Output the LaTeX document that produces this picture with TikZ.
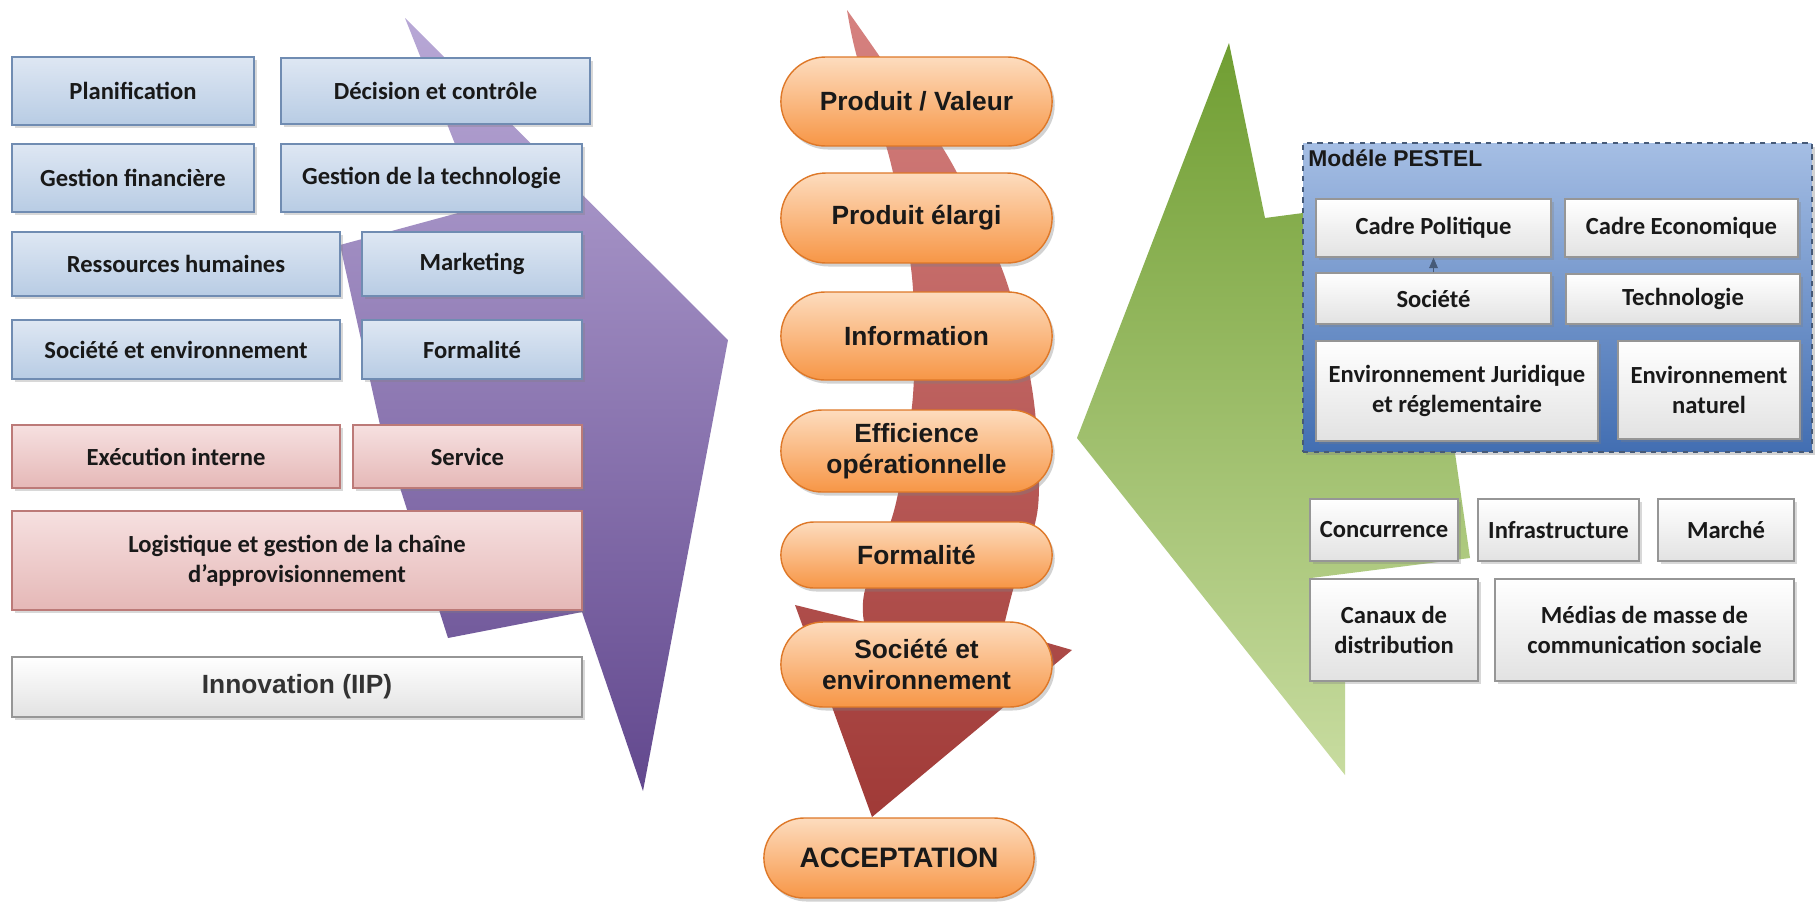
\documentclass[tikz,border=0pt]{standalone}
\usepackage{fontspec}
\setmainfont{Carlito}
\newfontfamily\arialf{Liberation Sans}
\usetikzlibrary{shapes.misc,shadows,arrows.meta,positioning}
\definecolor{bluetop}{RGB}{222,231,243}
\definecolor{bluebot}{RGB}{184,204,228}
\definecolor{blueline}{RGB}{112,140,178}
\definecolor{pinktop}{RGB}{246,224,224}
\definecolor{pinkbot}{RGB}{229,184,183}
\definecolor{pinkline}{RGB}{188,122,120}
\definecolor{greybot}{RGB}{226,226,226}
\definecolor{greyline}{RGB}{150,150,150}
\definecolor{pilltop}{RGB}{253,220,190}
\definecolor{pillbot}{RGB}{247,150,70}
\definecolor{pillline}{RGB}{222,120,40}
\definecolor{purtop}{RGB}{184,168,214}
\definecolor{purbot}{RGB}{98,72,142}
\definecolor{redtop}{RGB}{214,130,128}
\definecolor{redbot}{RGB}{160,58,55}
\definecolor{grntop}{RGB}{112,158,50}
\definecolor{grnbot}{RGB}{200,220,160}
\definecolor{pesttop}{RGB}{165,190,228}
\definecolor{pestbot}{RGB}{66,110,178}
\definecolor{pestline}{RGB}{70,90,120}
\definecolor{txt}{RGB}{25,25,25}

\begin{document}
\begin{tikzpicture}[x=0.02cm,y=-0.02cm,
	box/.style={rectangle,line width=0.8pt,text=txt,align=center,inner sep=2pt,
		font=\bfseries\fontsize{14}{17}\selectfont,
		drop shadow={shadow xshift=1.5pt,shadow yshift=-1.5pt,opacity=.3}},
	bluebox/.style={box,draw=blueline,top color=bluetop,bottom color=bluebot},
	pinkbox/.style={box,draw=pinkline,top color=pinktop,bottom color=pinkbot},
	greybox/.style={box,draw=greyline,top color=white,bottom color=greybot},
	pill/.style={rounded rectangle,draw=pillline,line width=0.8pt,top color=pilltop,bottom color=pillbot,
		text=txt,align=center,font=\arialf\bfseries\fontsize{15}{18}\selectfont,minimum width=5.66cm,
		drop shadow={shadow xshift=1.5pt,shadow yshift=-2pt,opacity=.35}},
	pestframe/.style={rectangle,draw=pestline,dashed,line width=1.2pt,top color=pesttop,bottom color=pestbot,
		drop shadow={shadow xshift=1.5pt,shadow yshift=-2pt,opacity=.35}}]
	\path[use as bounding box,fill=white] (0,0) rectangle (1816,907);
	\shade[top color=purtop,bottom color=purbot] (405,18)--(728,340)--(643,791)--(582,612)--(448,638)--(380,425)--(340,245)--(480,207)--cycle;
	\shade[top color=redtop,bottom color=redbot] plot[smooth] coordinates {(847,10)(880,57)(950,160)(1005,277)(1033,395)(1038,507)(1013,590)(1003,630)}
		--(1072,650)--(872,817)--(795,605)
		--plot[smooth] coordinates {(864,622)(865,590)(895,507)(913,395)(912,277)(890,160)(857,57)(847,10)}--cycle;
	\shade[top color=grntop,bottom color=grnbot] (1229,43)--(1265,218)--(1303,213)--(1440,205)--(1455,453)--(1470,558)--(1311,578)--(1345,681)--(1345,775)--(1077,438)--cycle;

	\node (plan) at (133,91)[bluebox,minimum width=4.84cm,minimum height=1.36cm] {Planification};
	\node (deci) at (435.5,91)[bluebox,minimum width=6.18cm,minimum height=1.32cm] {Décision et contrôle};
	\node (gfin) at (133,178)[bluebox,minimum width=4.84cm,minimum height=1.36cm] {Gestion financière};
	\node (gtec) at (431.5,178)[bluebox,minimum width=6.02cm,minimum height=1.36cm] {Gestion de la technologie};
	\node (rh) at (176,264)[bluebox,minimum width=6.56cm,minimum height=1.28cm] {Ressources humaines};
	\node (mkt) at (472,264)[bluebox,minimum width=4.4cm,minimum height=1.28cm] {Marketing};
	\node (socenv) at (176,349.5)[bluebox,minimum width=6.56cm,minimum height=1.18cm] {Société et environnement};
	\node (form) at (472,349.5)[bluebox,minimum width=4.4cm,minimum height=1.18cm] {Formalité};
	\node (exec) at (176,456.5)[pinkbox,minimum width=6.56cm,minimum height=1.26cm] {Exécution interne};
	\node (serv) at (467.5,456.5)[pinkbox,minimum width=4.58cm,minimum height=1.26cm] {Service};
	\node (logi) at (297,560.5)[pinkbox,minimum width=11.4cm,minimum height=1.98cm] {Logistique et gestion de la chaîne\\d'approvisionnement};
	\node (innov) at (297,687)[greybox,minimum width=11.4cm,minimum height=1.2cm,text=black!80,font=\arialf\bfseries\fontsize{15}{18}\selectfont] {Innovation (IIP)};

	\node (prod) at (916.5,101.5)[pill,minimum height=1.78cm] {Produit / Valeur};
	\node (elargi) at (916.5,218)[pill,minimum height=1.8cm] {Produit élargi};
	\node (info) at (916.5,336)[pill,minimum height=1.76cm] {Information};
	\node (effic) at (916.5,451)[pill,minimum height=1.64cm] {Efficience\\opérationnelle};
	\node (formp) at (916.5,555)[pill,minimum height=1.32cm] {Formalité};
	\node (socp) at (916.5,664.5)[pill,minimum height=1.7cm] {Société et\\environnement};
	\node (accept) at (899,858)[pill,minimum width=5.64cm,minimum height=1.6cm,font=\arialf\bfseries\fontsize{16}{19}\selectfont] {ACCEPTATION};

	\node (pestel) at (1557.5,297.5)[pestframe,minimum width=10.18cm,minimum height=6.18cm] {};
	\node (ptitle) at (1308,158)[anchor=west,inner sep=0pt,text=txt,font=\arialf\bfseries\fontsize{13}{15}\selectfont] {Modéle PESTEL};
	\node (cpol) at (1433.5,228)[greybox,minimum width=4.7cm,minimum height=1.16cm] {Cadre Politique};
	\node (ceco) at (1681.5,228)[greybox,minimum width=4.66cm,minimum height=1.16cm] {Cadre Economique};
	\node (soc) at (1433.5,298.5)[greybox,minimum width=4.7cm,minimum height=1.02cm] {Société};
	\node (tech) at (1683,299)[greybox,minimum width=4.68cm,minimum height=1cm] {Technologie};
	\node (envj) at (1457,391)[greybox,minimum width=5.64cm,minimum height=2cm] {Environnement Juridique\\et réglementaire};
	\node (envn) at (1709,390)[greybox,minimum width=3.64cm,minimum height=1.96cm] {Environnement\\naturel};
	\draw[-{Triangle[length=6pt,width=5pt]},line width=0.4pt,color=pestline] (soc.north)--(cpol.south);

	\node (conc) at (1384,530)[greybox,minimum width=2.96cm,minimum height=1.24cm] {Concurrence};
	\node (infra) at (1558.5,530)[greybox,minimum width=3.22cm,minimum height=1.24cm] {Infrastructure};
	\node (march) at (1726,530)[greybox,minimum width=2.72cm,minimum height=1.24cm] {Marché};
	\node (canaux) at (1394,630)[greybox,minimum width=3.36cm,minimum height=2.04cm] {Canaux de\\distribution};
	\node (medias) at (1644.5,630)[greybox,minimum width=5.98cm,minimum height=2.04cm] {Médias de masse de\\communication sociale};
\end{tikzpicture}
\end{document}
